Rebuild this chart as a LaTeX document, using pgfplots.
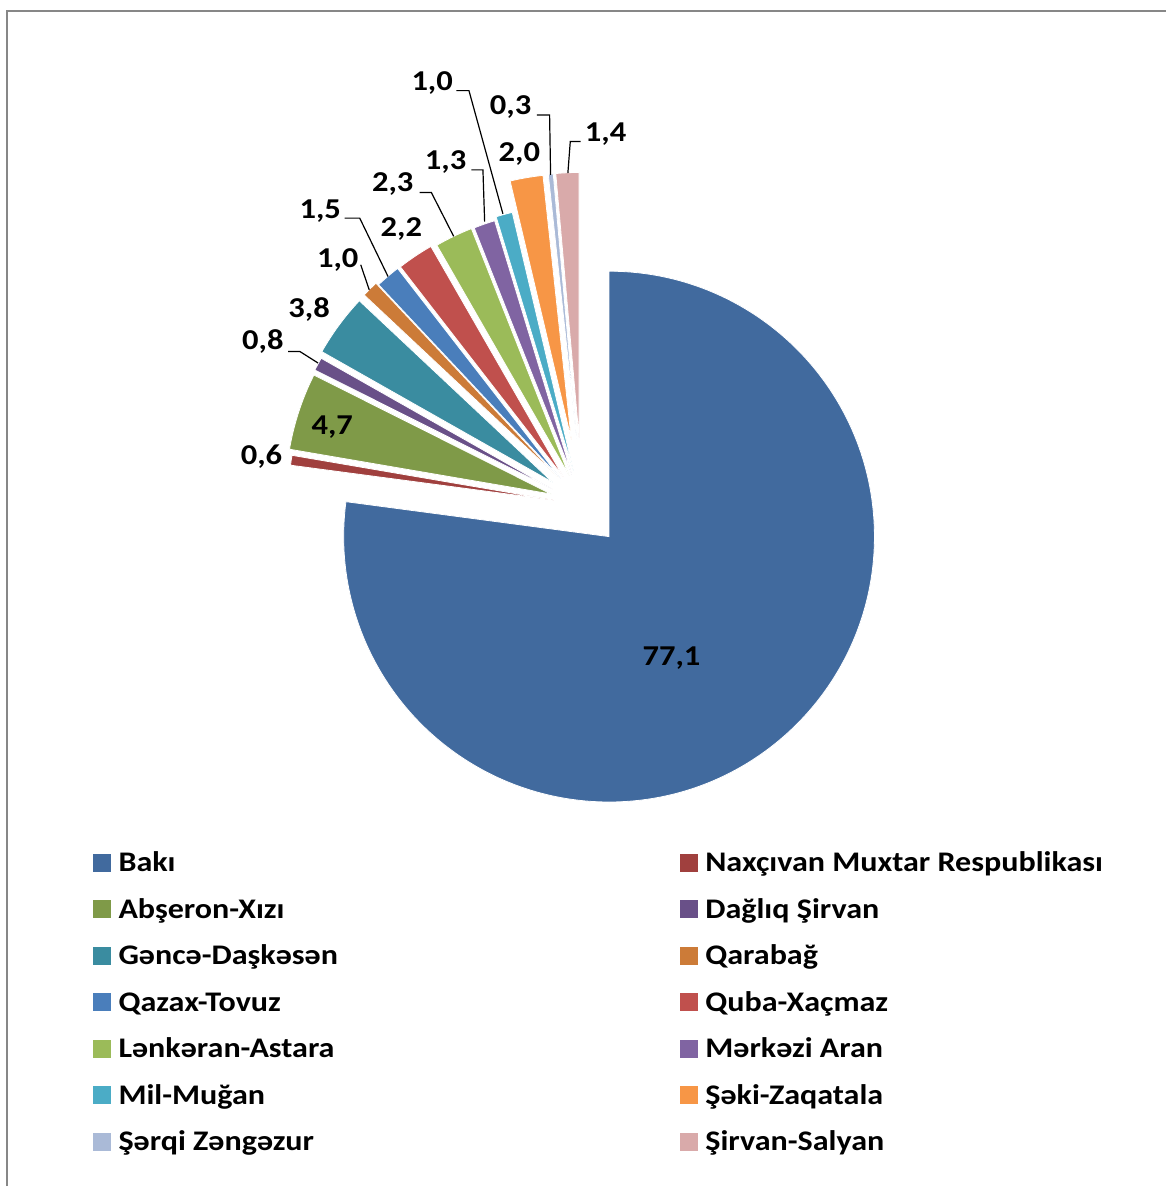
\documentclass[border=0pt]{standalone}
\usepackage{pgfplots}
\usepackage{pgfplotstable}
\pgfplotsset{compat=1.18}
\usepackage{fontspec}
\setmainfont{Carlito}[FakeStretch=1.13]
\definecolor{cBaki}{HTML}{416A9E}
\definecolor{cNax}{HTML}{A0403E}
\definecolor{cAbs}{HTML}{7F9A48}
\definecolor{cDag}{HTML}{695088}
\definecolor{cGen}{HTML}{3A8CA0}
\definecolor{cQar}{HTML}{CC7B38}
\definecolor{cQaz}{HTML}{4A7EBB}
\definecolor{cQub}{HTML}{C0504D}
\definecolor{cLen}{HTML}{9BBB59}
\definecolor{cMer}{HTML}{8064A2}
\definecolor{cMil}{HTML}{4BACC6}
\definecolor{cSek}{HTML}{F79646}
\definecolor{cSer}{HTML}{AABAD7}
\definecolor{cSir}{HTML}{D9AAAA}
\definecolor{frame}{HTML}{878787}

% share (%), apex of the (exploded) slice in picture pixels, colour
\pgfplotstableread{
val ax ay col
77.1 609.5 537 cBaki
0.6 554 500.5 cNax
4.7 551.5 494.4 cAbs
0.8 552.5 489.4 cDag
3.8 553.2 482.8 cGen
1.0 558 477 cQar
1.5 560.7 478.5 cQaz
2.2 563.5 476.9 cQub
2.3 569.5 475.7 cLen
1.3 572.3 475 cMer
1.0 573.8 471 cMil
2.0 571.7 439.6 cSek
0.3 577 438.6 cSer
1.4 579.5 438.2 cSir
}\pietable

\pgfplotstableread{
lx ly lab
672 665.5 77,1
261.7 465 0,6
332.5 435 4,7
263 350 0,8
309.3 317.3 3,8
338 268 1,0
320.5 218.3 1,5
401.7 237 2,2
393 191.7 2,3
446 169.3 1,3
432.5 90.7 1,0
519.7 161.7 2,0
511 115 0,3
606 141.7 1,4
}\labtable

\begin{document}
\begin{tikzpicture}
\begin{axis}[
  x=0.5pt, y=0.5pt,
  xmin=0, xmax=1167, ymin=0, ymax=1187,
  y dir=reverse,
  hide axis, clip=false,
  legend columns=2,
  legend image code/.code={\fill[#1, draw=none] (0pt,0pt) rectangle (9pt,9pt);},
  legend style={at={(axis cs:93,850.5)}, anchor=north west, draw=none, fill=none,
    inner sep=0pt, outer sep=0pt,
    font=\bfseries\fontsize{14.2}{16}\selectfont, row sep=8.75pt,
    /tikz/every odd column/.append style={column sep=1.8pt},
    /tikz/column 2/.style={column sep=169pt},
    cells={anchor=base west, inner sep=0pt, text height=9pt, text depth=3pt}},
]
\path (axis cs:0,0) rectangle (axis cs:1167,1187);
% frame
\addplot[frame, line width=0.9pt, forget plot] coordinates {(6.8,1187) (6.8,11) (1167,11)};

% pie slices
\pgfplotstablegetrowsof{\pietable}
\pgfmathtruncatemacro\nlast{\pgfplotsretval-1}
\def\cum{0}
\pgfplotsforeachungrouped \i in {0,...,\nlast}{%
  \pgfplotstablegetelem{\i}{val}\of\pietable \let\sv\pgfplotsretval
  \pgfplotstablegetelem{\i}{ax}\of\pietable \let\sax\pgfplotsretval
  \pgfplotstablegetelem{\i}{ay}\of\pietable \let\say\pgfplotsretval
  \pgfplotstablegetelem{\i}{col}\of\pietable \let\scol\pgfplotsretval
  \pgfmathsetmacro\sa{90-3.6*\cum}%
  \pgfmathsetmacro\cum{\cum+\sv}%
  \pgfmathsetmacro\ea{90-3.6*\cum}%
  \edef\temp{\noexpand\fill[\scol, draw=white, line width=0.4pt, line join=miter]
    (axis cs:\sax,\say) -- ++(\sa:132.8pt) arc[start angle=\sa, end angle=\ea, radius=132.8pt] -- cycle;}%
  \temp
}

% leader lines
\addplot[black, line width=0.6pt, forget plot] coordinates {(288.3,351.7) (300,351.7) (318.3,363.3)};
\addplot[black, line width=0.6pt, forget plot] coordinates {(361,265) (369.5,290)};
\addplot[black, line width=0.6pt, forget plot] coordinates {(345,218.3) (360,218.3) (388.3,276.7)};
\addplot[black, line width=0.6pt, forget plot] coordinates {(420,192.7) (431.7,192.7) (454,236.5)};
\addplot[black, line width=0.6pt, forget plot] coordinates {(471.7,170) (483.3,170) (485,221.7)};
\addplot[black, line width=0.6pt, forget plot] coordinates {(456.7,90.7) (469.3,90.7) (503.3,214)};
\addplot[black, line width=0.6pt, forget plot] coordinates {(537.3,115) (550,115) (551,175)};
\addplot[black, line width=0.6pt, forget plot] coordinates {(581,141.7) (570.7,141.7) (568.3,173.3)};

% data labels
\addplot[draw=none, forget plot, nodes near coords, point meta=explicit symbolic,
  every node near coord/.append style={anchor=base, inner sep=0pt, text=black,
    font=\bfseries\fontsize{14.4}{15}\selectfont}]
  table[x=lx, y=ly, meta=lab] {\labtable};

% legend
\addlegendimage{fill=cBaki}\addlegendentry{Bakı}
\addlegendimage{fill=cNax}\addlegendentry{Naxçıvan Muxtar Respublikası}
\addlegendimage{fill=cAbs}\addlegendentry{Abşeron-Xızı}
\addlegendimage{fill=cDag}\addlegendentry{Dağlıq Şirvan}
\addlegendimage{fill=cGen}\addlegendentry{Gəncə-Daşkəsən}
\addlegendimage{fill=cQar}\addlegendentry{Qarabağ}
\addlegendimage{fill=cQaz}\addlegendentry{Qazax-Tovuz}
\addlegendimage{fill=cQub}\addlegendentry{Quba-Xaçmaz}
\addlegendimage{fill=cLen}\addlegendentry{Lənkəran-Astara}
\addlegendimage{fill=cMer}\addlegendentry{Mərkəzi Aran}
\addlegendimage{fill=cMil}\addlegendentry{Mil-Muğan}
\addlegendimage{fill=cSek}\addlegendentry{Şəki-Zaqatala}
\addlegendimage{fill=cSer}\addlegendentry{Şərqi Zəngəzur}
\addlegendimage{fill=cSir}\addlegendentry{Şirvan-Salyan}
\end{axis}
\end{tikzpicture}
\end{document}
